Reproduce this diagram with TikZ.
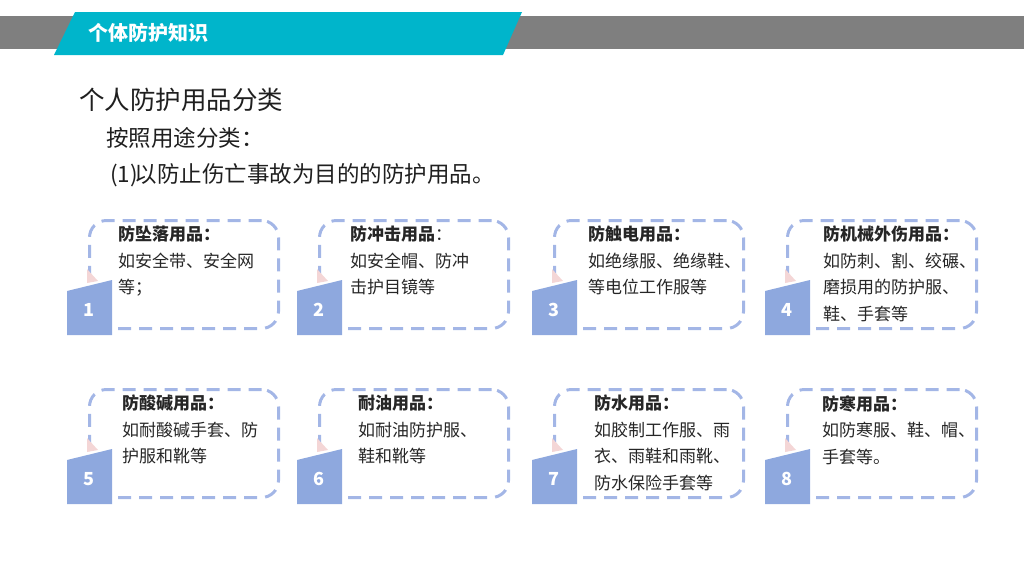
\documentclass[tikz,border=0pt]{standalone}
\usepackage{fontspec}
\setmainfont{Noto Sans CJK SC}
\usetikzlibrary{positioning}

\definecolor{bandgray}{HTML}{7F7F7F}
\definecolor{bandcyan}{HTML}{00B5CB}
\definecolor{boxblue}{HTML}{A3B6E6}
\definecolor{tagblue}{HTML}{8EA8DE}
\definecolor{foldpink}{HTML}{F4D6D6}
\definecolor{textgray}{HTML}{262626}

\begin{document}
\begin{tikzpicture}[
  x=1pt, y=-1pt,
  dashbox/.style={draw=boxblue, line width=3pt, dash pattern=on 13pt off 8pt, rounded corners=17pt, minimum width=189pt, minimum height=108pt, anchor=north west, inner sep=0pt},
  boxtext/.style={anchor=north west, inner sep=0pt, align=left, text=textgray, font=\fontsize{17}{26.5}\selectfont},
  numtext/.style={text=white, font=\fontsize{18}{20}\selectfont\bfseries},
  heading/.style={anchor=west, inner sep=0pt, text=black!88}
]
\useasboundingbox (0,0) rectangle (1024,576);

% header band
\fill[bandgray] (0,16) rectangle (1024,49);
\fill[bandcyan] (75,12) -- (522,12) -- (503,55) -- (54,55) -- cycle;
\node[anchor=west, inner sep=0pt, text=white, font=\fontsize{20}{22}\selectfont\bfseries] (hdr) at (88,33) {个体防护知识};

% titles
\node[heading, font=\fontsize{25.5}{30}\selectfont] (title) at (79,100) {个人防护用品分类};
\node[heading, font=\fontsize{22.5}{26}\selectfont] (sub) at (106,138) {按照用途分类：};
\node[heading, font=\fontsize{22.5}{26}\selectfont] (item) at (110,175) {(1)\hspace{-3pt}以防止伤亡事故为目的的防护用品。};

% dashed boxes
\node[dashbox] (box1) at (88,219) {};
\node[dashbox] (box2) at (318,219) {};
\node[dashbox] (box3) at (553,219) {};
\node[dashbox] (box4) at (786,219) {};
\node[dashbox] (box5) at (88,388) {};
\node[dashbox] (box6) at (318,388) {};
\node[dashbox] (box7) at (553,388) {};
\node[dashbox] (box8) at (786,388) {};

% box texts
\node[boxtext] (txt1) at (118,226) {\textbf{防坠落用品：}\\如安全带、安全网\\等；};
\node[boxtext] (txt2) at (350,226) {\textbf{防冲击用品}：\\如安全帽、防冲\\击护目镜等};
\node[boxtext] (txt3) at (588,226) {\textbf{防触电用品：}\\如绝缘服、绝缘鞋、\\等电位工作服等};
\node[boxtext] (txt4) at (823,226) {\textbf{防机械外伤用品：}\\如防刺、割、绞碾、\\磨损用的防护服、\\鞋、手套等};
\node[boxtext] (txt5) at (122,395) {\textbf{防酸碱用品：}\\如耐酸碱手套、防\\护服和靴等};
\node[boxtext] (txt6) at (358,395) {\textbf{耐油用品：}\\如耐油防护服、\\鞋和靴等};
\node[boxtext] (txt7) at (594,395) {\textbf{防水用品：}\\如胶制工作服、雨\\衣、雨鞋和雨靴、\\防水保险手套等};
\node[boxtext] (txt8) at (822,395) {\textbf{防寒用品：}\\如防寒服、鞋、帽、\\手套等。};

% number tags
\foreach \n/\bx/\by in {1/88/219, 2/318/219, 3/553/219, 4/786/219, 5/88/388, 6/318/388, 7/553/388, 8/786/388} {
  \fill[foldpink] (\bx-1,\by+50) -- (\bx+10,\by+62) -- (\bx-1,\by+64) -- cycle;
  \fill[tagblue] (\bx-21,\by+72) -- (\bx+24,\by+61) -- (\bx+24,\by+116) -- (\bx-21,\by+116) -- cycle;
  \node[numtext] (num\n) at (\bx+1,\by+91) {\n};
}

\end{tikzpicture}
\end{document}
